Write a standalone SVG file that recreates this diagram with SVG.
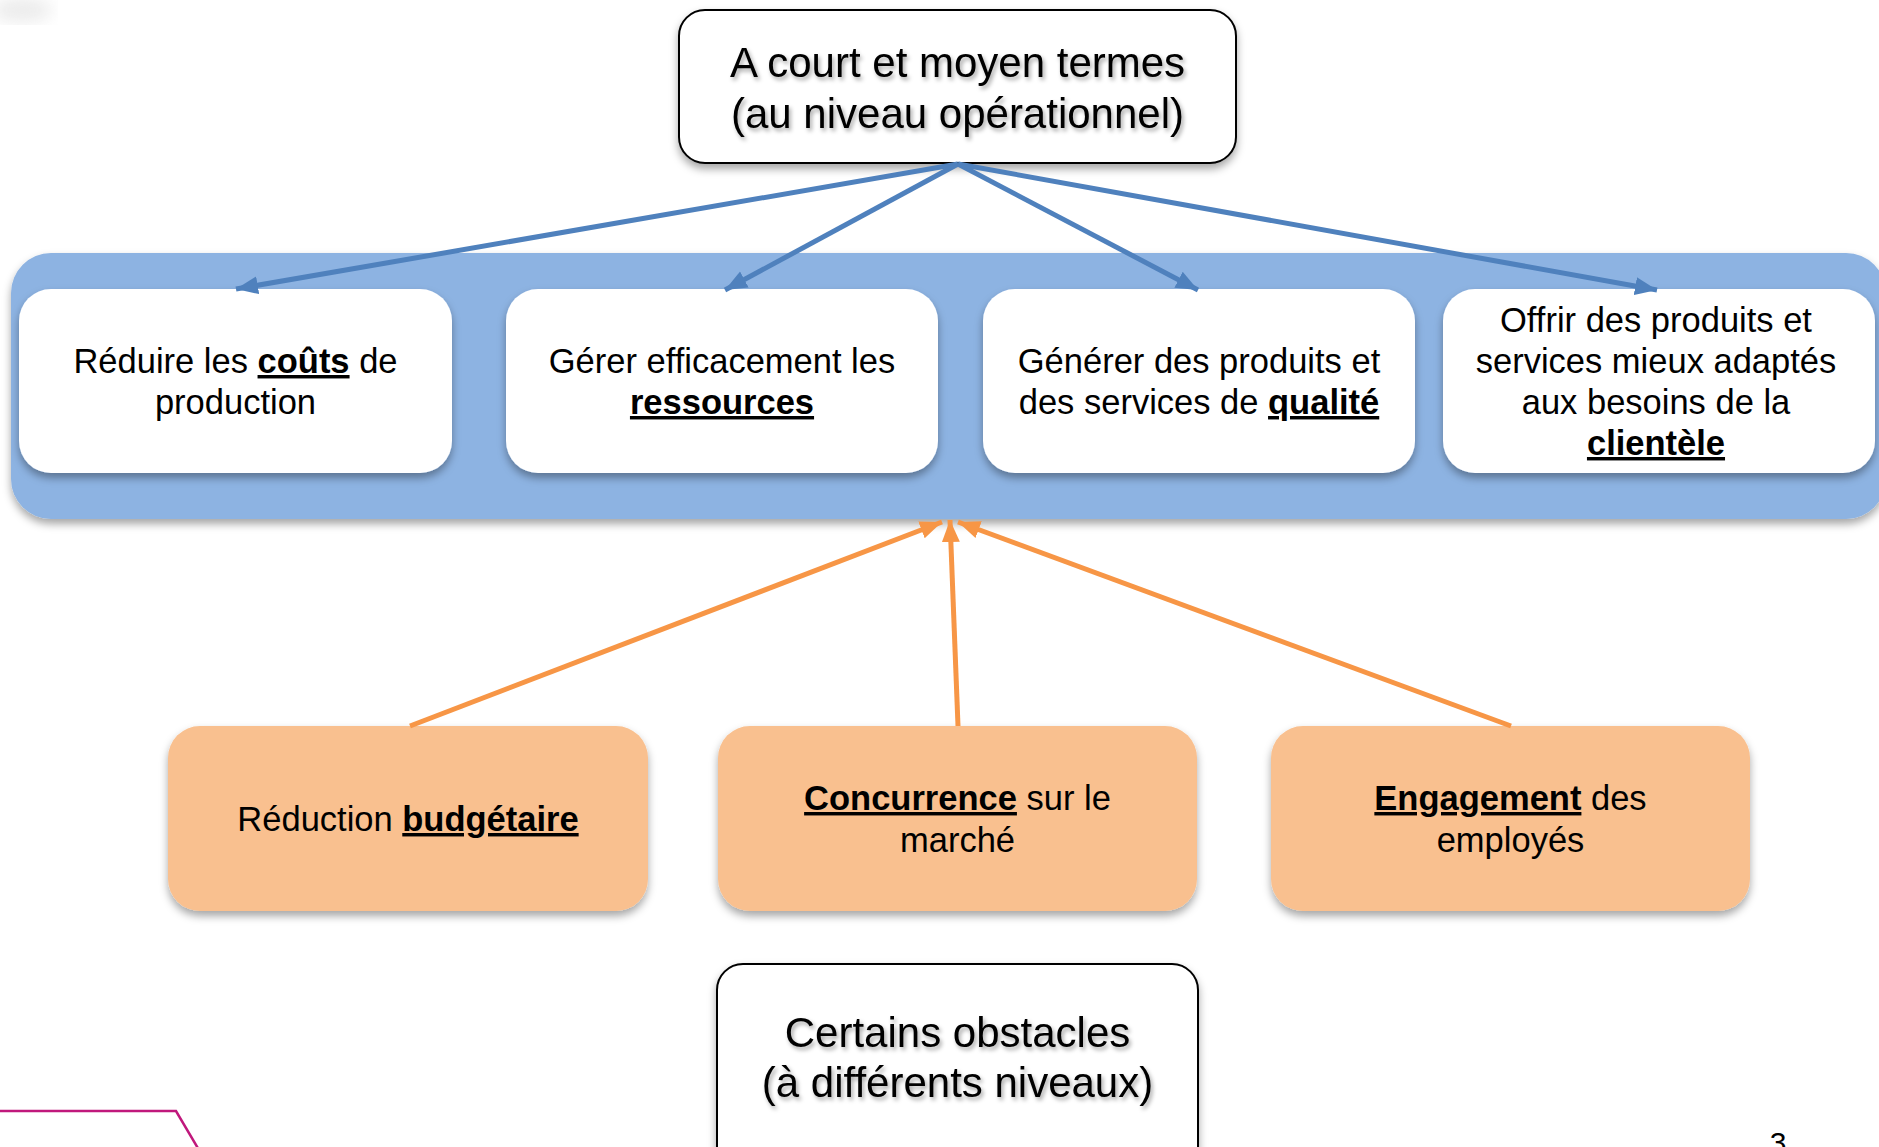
<svg xmlns="http://www.w3.org/2000/svg" width="1879" height="1147" viewBox="0 0 1879 1147">
  <style>
    text { font-family: "Liberation Sans", Arial, sans-serif; fill: #000; text-anchor: middle; }
    .t34 { font-size: 34.5px; }
    .t42 { font-size: 42px; }
    .b { font-weight: bold; text-decoration: underline; }
    .white { fill: #FFFFFF; }
    .orange { fill: #F9C08F; }
    .outline { fill: #FFFFFF; stroke: #000; stroke-width: 2; }
    .blue { stroke: #4F81BD; stroke-width: 5; fill: none; }
    .org { stroke: #F79646; stroke-width: 5; fill: none; }
  </style>
  <defs>
    <filter id="sh" x="-10%" y="-10%" width="120%" height="130%">
      <feDropShadow dx="0" dy="5" stdDeviation="4" flood-color="#000" flood-opacity="0.35"/>
    </filter>
    <filter id="tsh" x="-10%" y="-20%" width="120%" height="150%">
      <feDropShadow dx="2" dy="3" stdDeviation="2" flood-color="#000" flood-opacity="0.35"/>
    </filter>
    <filter id="blur"><feGaussianBlur stdDeviation="8"/></filter>
    <marker id="ab" markerUnits="userSpaceOnUse" markerWidth="26" markerHeight="20" refX="22" refY="10" orient="auto">
      <path d="M0,1 L22,10 L0,19 Z" fill="#4F81BD"/>
    </marker>
    <marker id="ao" markerUnits="userSpaceOnUse" markerWidth="26" markerHeight="20" refX="22" refY="10" orient="auto">
      <path d="M0,1 L22,10 L0,19 Z" fill="#F79646"/>
    </marker>
  </defs>

  <rect width="1879" height="1147" fill="#FFFFFF"/>
  <ellipse cx="22" cy="10" rx="30" ry="12" fill="#D8D8D8" opacity="0.5" filter="url(#blur)"/>

  <g id="band">
    <rect x="11" y="253" width="1875" height="266" rx="40" fill="#8DB3E2" filter="url(#sh)"/>
  </g>

  <g id="top-node">
    <rect class="outline" x="679" y="10" width="557" height="153" rx="26" filter="url(#sh)"/>
    <text class="t42" filter="url(#tsh)"><tspan x="957.5" y="77">A court et moyen termes</tspan><tspan x="957.5" y="128">(au niveau opérationnel)</tspan></text>
  </g>

  <g id="goal-1">
    <rect class="white" x="19" y="289" width="433" height="184" rx="32" filter="url(#sh)"/>
    <text class="t34"><tspan x="235.5" y="373">Réduire les <tspan class="b">coûts</tspan> de</tspan><tspan x="235.5" y="414">production</tspan></text>
  </g>

  <g id="goal-2">
    <rect class="white" x="506" y="289" width="432" height="184" rx="32" filter="url(#sh)"/>
    <text class="t34"><tspan x="722" y="373">Gérer efficacement les</tspan><tspan x="722" y="414" class="b">ressources</tspan></text>
  </g>

  <g id="goal-3">
    <rect class="white" x="983" y="289" width="432" height="184" rx="32" filter="url(#sh)"/>
    <text class="t34"><tspan x="1199" y="373">Générer des produits et</tspan><tspan x="1199" y="414">des services de <tspan class="b">qualité</tspan></tspan></text>
  </g>

  <g id="goal-4">
    <rect class="white" x="1443" y="289" width="432" height="184" rx="32" filter="url(#sh)"/>
    <text class="t34"><tspan x="1656" y="332">Offrir des produits et</tspan><tspan x="1656" y="373">services mieux adaptés</tspan><tspan x="1656" y="414">aux besoins de la</tspan><tspan x="1656" y="455" class="b">clientèle</tspan></text>
  </g>

  <g id="obstacle-1">
    <rect class="orange" x="168" y="726" width="480" height="185" rx="32" filter="url(#sh)"/>
    <text class="t34"><tspan x="408" y="831">Réduction <tspan class="b">budgétaire</tspan></tspan></text>
  </g>

  <g id="obstacle-2">
    <rect class="orange" x="718" y="726" width="479" height="185" rx="32" filter="url(#sh)"/>
    <text class="t34"><tspan x="957.5" y="810"><tspan class="b">Concurrence</tspan> sur le</tspan><tspan x="957.5" y="852">marché</tspan></text>
  </g>

  <g id="obstacle-3">
    <rect class="orange" x="1271" y="726" width="479" height="185" rx="32" filter="url(#sh)"/>
    <text class="t34"><tspan x="1510.5" y="810"><tspan class="b">Engagement</tspan> des</tspan><tspan x="1510.5" y="852">employés</tspan></text>
  </g>

  <g id="bottom-node">
    <rect class="outline" x="717" y="964" width="481" height="210" rx="26" filter="url(#sh)"/>
    <text class="t42" filter="url(#tsh)"><tspan x="957.5" y="1047">Certains obstacles</tspan><tspan x="957.5" y="1097">(à différents niveaux)</tspan></text>
  </g>

  <g id="connectors">
    <line class="blue" x1="958" y1="164" x2="236" y2="289" marker-end="url(#ab)"/>
    <line class="blue" x1="958" y1="164" x2="725" y2="290" marker-end="url(#ab)"/>
    <line class="blue" x1="958" y1="164" x2="1198" y2="290" marker-end="url(#ab)"/>
    <line class="blue" x1="958" y1="164" x2="1657" y2="290" marker-end="url(#ab)"/>
    <line class="org" x1="410" y1="726" x2="942" y2="522" marker-end="url(#ao)"/>
    <line class="org" x1="958" y1="726" x2="950" y2="520" marker-end="url(#ao)"/>
    <line class="org" x1="1511" y1="726" x2="958" y2="522" marker-end="url(#ao)"/>
  </g>

  <polyline points="0,1111 176,1111 199,1150" fill="none" stroke="#C0187C" stroke-width="2.5"/>
  <text x="1778" y="1153" style="font-size:30px">3</text>
</svg>
